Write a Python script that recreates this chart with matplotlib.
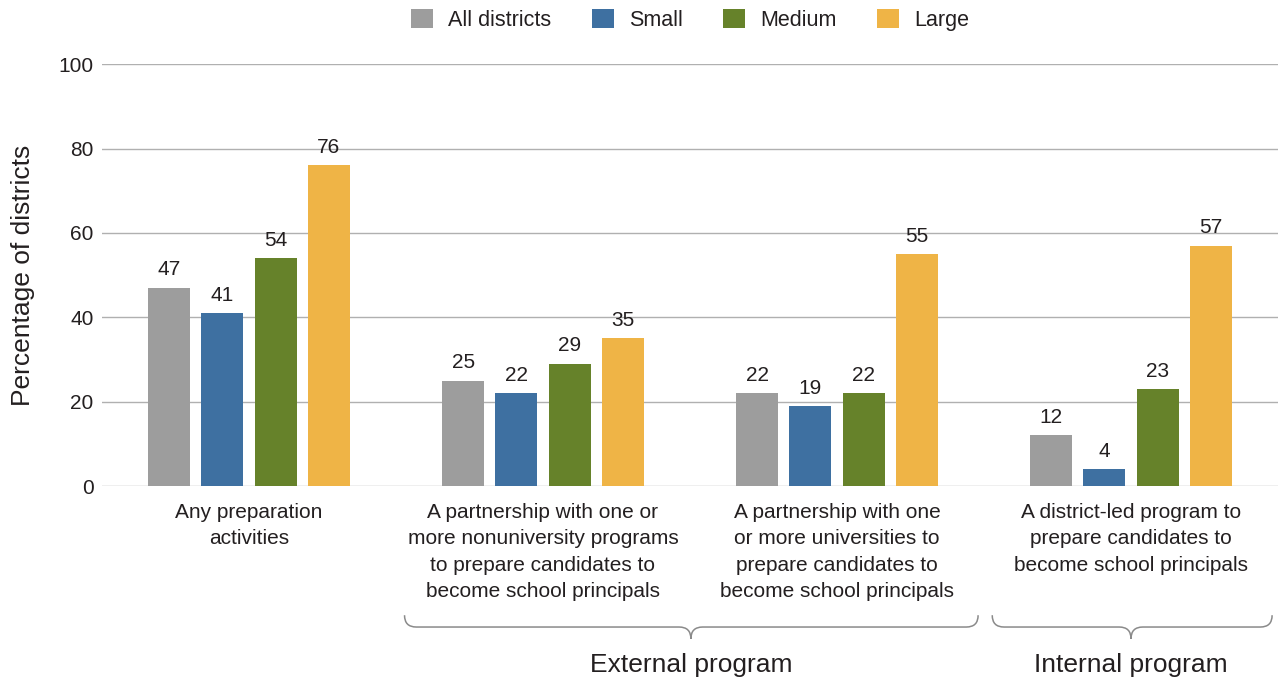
import matplotlib.pyplot as plt
import numpy as np
from matplotlib.path import Path
from matplotlib.patches import PathPatch
import matplotlib.transforms as mtransforms

plt.rcParams['font.family'] = ['Liberation Sans', 'DejaVu Sans']

# data
categories = [
    "Any preparation\nactivities",
    "A partnership with one or\nmore nonuniversity programs\nto prepare candidates to\nbecome school principals",
    "A partnership with one\nor more universities to\nprepare candidates to\nbecome school principals",
    "A district-led program to\nprepare candidates to\nbecome school principals",
]
series_names = ["All districts", "Small", "Medium", "Large"]
all_districts = [47, 25, 22, 12]
small = [41, 22, 19, 4]
medium = [54, 29, 22, 23]
large = [76, 35, 55, 57]
colors = ["#9d9d9d", "#3e70a1", "#66822a", "#efb446"]
text_color = "#231f20"

values = [all_districts, small, medium, large]

fig = plt.figure(figsize=(12.78, 6.77), dpi=100)
ax = fig.add_axes([0.0798, 0.282, 0.9202, 0.6233])

x = np.arange(len(categories))
width = 0.1425
step = 0.181
for i, (name, vals) in enumerate(zip(series_names, values)):
    pos = x + (i - 1.5) * step
    bars = ax.bar(pos, vals, width, color=colors[i], label=name, zorder=3)
    for b, v in zip(bars, vals):
        ax.annotate(str(v), (b.get_x() + b.get_width() / 2, v),
                    xytext=(0, 6), textcoords="offset points",
                    ha="center", va="bottom", fontsize=15, color=text_color)

ax.set_xlim(-0.5, 3.5)
ax.set_ylim(0, 100)
ax.set_yticks([0, 20, 40, 60, 80, 100])
ax.yaxis.grid(True, color="#b0b0b0", linewidth=1, zorder=0)
ax.tick_params(axis="both", length=0, labelsize=15, colors=text_color)
ax.tick_params(axis="y", pad=6)
ax.tick_params(axis="x", pad=12)
ax.set_xticks(x)
ax.set_xticklabels(categories, linespacing=1.5)
for s in ax.spines.values():
    s.set_visible(False)
ax.set_ylabel("Percentage of districts", fontsize=19, color=text_color, labelpad=17)


# curly braces under the program groups
def brace(x0, x1, xm, dx=0.04, ytop=-0.306, ymid=-0.334, ybot=-0.362):
    verts = [(x0, ytop), (x0, ymid), (x0 + dx, ymid),
             (xm - dx, ymid),
             (xm, ymid), (xm, ybot),
             (xm, ymid), (xm + dx, ymid),
             (x1 - dx, ymid),
             (x1, ymid), (x1, ytop)]
    codes = [Path.MOVETO, Path.CURVE3, Path.CURVE3,
             Path.LINETO,
             Path.CURVE3, Path.CURVE3,
             Path.CURVE3, Path.CURVE3,
             Path.LINETO,
             Path.CURVE3, Path.CURVE3]
    trans = mtransforms.blended_transform_factory(ax.transData, ax.transAxes)
    patch = PathPatch(Path(verts, codes), facecolor="none", edgecolor="#8a8a8a",
                      linewidth=1.1, transform=trans, clip_on=False)
    ax.add_patch(patch)


brace(0.529, 2.48, 1.503)
brace(2.528, 3.48, 3.0)
trans = mtransforms.blended_transform_factory(ax.transData, ax.transAxes)
ax.text(1.503, -0.425, "External program", transform=trans, ha="center", va="center",
        fontsize=19, color=text_color)
ax.text(3.0, -0.425, "Internal program", transform=trans, ha="center", va="center",
        fontsize=19, color=text_color)

fig.legend(loc="center", bbox_to_anchor=(0.54, 0.971), ncol=4, frameon=False,
           fontsize=15.5, handlelength=1.0, handleheight=1.0, handletextpad=0.7,
           columnspacing=1.9, labelcolor=text_color)

fig.savefig("out.png", dpi=100)
